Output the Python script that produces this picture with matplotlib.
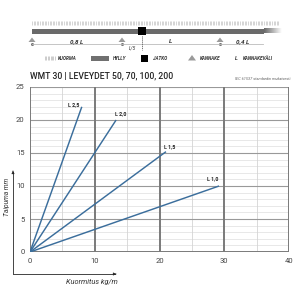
import matplotlib
matplotlib.use("Agg")
import matplotlib.pyplot as plt
import numpy as np
from matplotlib.patches import Rectangle, Polygon

# ---- data ----
series_labels = ["L 2,5", "L 2,0", "L 1,5", "L 1,0"]
end_load = [8.0, 13.3, 21.0, 29.2]      # kg/m at end of line
end_defl = [22.0, 20.0, 15.2, 10.0]     # mm at end of line
x_ticks = [0, 10, 20, 30, 40]
y_ticks = [0, 5, 10, 15, 20, 25]
title = "WMT 30 | LEVEYDET 50, 70, 100, 200"
note = "IEC 61537 standardin mukaisesti."
xlabel = "Kuormitus kg/m"
ylabel = "Taipuma mm"
legend_items = ["KUORMA", "HYLLY", "JATKO", "KANNAKE", "KANNAKEVÄLI"]
span_labels = ["0,8 L", "L", "0,4 L"]

FONT = ["Roboto", "DejaVu Sans"]
plt.rcParams["font.family"] = FONT

line_col = "#3b6e9c"
dark = "#7a7a7a"

fig = plt.figure(figsize=(3, 3), dpi=100)
fig.patch.set_facecolor("white")

# overlay in pixel coordinates
ov = fig.add_axes([0, 0, 1, 1])
ov.set_xlim(0, 300)
ov.set_ylim(300, 0)
ov.axis("off")

# ---- top diagram ----
ov.vlines(np.arange(32, 280, 1.6), 21, 25, color="#c4c4c4", lw=0.5)
ov.add_patch(Rectangle((32, 28.5), 232, 5, color="#6a6a6a", lw=0))
grad = np.linspace(0, 1, 50)[None, :]
ov.imshow(grad, extent=(264, 282, 33.5, 28.5), cmap=matplotlib.colors.LinearSegmentedColormap.from_list("g", ["#6a6a6a", "#ffffff"]), aspect="auto", zorder=2)
ov.add_patch(Rectangle((138, 27), 8, 8, color="black", lw=0, zorder=3))
for tx in [32, 122, 220]:
    ov.add_patch(Polygon([[tx - 3.5, 42], [tx + 3.5, 42], [tx, 37.5]], color="#9a9a9a", lw=0))
    ov.plot([tx], [44], marker="o", ms=1.2, color="#777777")
ov.plot([32, 263], [44, 44], color="#bbbbbb", lw=0.6)
ov.plot([142, 142], [36, 50], color="#555555", lw=0.7, ls=(0, (1, 1)))
for lbl, x in zip(span_labels, [77, 171, 243]):
    ov.text(x, 41.5, lbl, fontsize=4.5, fontweight="bold", style="italic", ha="center", va="center", color="#333333")
ov.text(132, 48, "L/5", fontsize=3.5, style="italic", ha="center", va="center", color="#333333")

# legend row
ly = 58
ov.vlines(np.arange(45, 55, 1.4), ly - 1.8, ly + 1.8, color="#b8b8b8", lw=0.5)
ov.text(58, ly, legend_items[0], fontsize=3.3, style="italic", fontweight="bold", va="center", color="#333333")
ov.add_patch(Rectangle((91, ly - 2.5), 18, 5, color="#707070", lw=0))
ov.text(113, ly, legend_items[1], fontsize=3.3, style="italic", fontweight="bold", va="center", color="#333333")
ov.add_patch(Rectangle((141, ly - 3.5), 7, 7, color="black", lw=0))
ov.text(153, ly, legend_items[2], fontsize=3.3, style="italic", fontweight="bold", va="center", color="#333333")
ov.add_patch(Polygon([[188, ly + 2.5], [196, ly + 2.5], [192, ly - 3]], color="#9a9a9a", lw=0))
ov.text(200, ly, legend_items[3], fontsize=3.3, style="italic", fontweight="bold", va="center", color="#333333")
ov.text(235, ly, "L", fontsize=3.8, style="italic", fontweight="bold", va="center", color="#333333")
ov.text(243, ly, legend_items[4], fontsize=3.3, style="italic", fontweight="bold", va="center", color="#333333")

# title + note
ov.text(30, 75.5, title, fontsize=6.2, fontweight="medium", ha="left", va="center", color="#222222")
ov.text(291, 79.5, note, fontsize=2.8, style="italic", ha="right", va="center", color="#666666")

# axis arrows
ov.plot([13, 13], [274, 172], color="#444444", lw=0.7)
ov.annotate("", xy=(13, 168), xytext=(13, 174), arrowprops=dict(arrowstyle="-|>", color="#222222", lw=0.5, mutation_scale=4))
ov.plot([13, 115], [274, 274], color="#444444", lw=0.7)
ov.annotate("", xy=(119, 274), xytext=(113, 274), arrowprops=dict(arrowstyle="-|>", color="#222222", lw=0.5, mutation_scale=4))
ov.text(7, 197, ylabel, rotation=90, fontsize=4.8, style="italic", ha="center", va="center", color="#333333")
ov.text(92, 282, xlabel, fontsize=5.3, style="italic", ha="center", va="center", color="#333333")

# ---- main chart ----
ax = fig.add_axes([30 / 300, 1 - 252 / 300, 259 / 300, 165 / 300])
ax.set_xlim(0, 40)
ax.set_ylim(0, 25)
ax.set_facecolor("none")
for yy in range(0, 26):
    if yy % 5 == 0:
        continue
    ax.axhline(yy, color="#dedede", lw=0.5, zorder=0)
for xx in [5, 15, 25, 35]:
    ax.axvline(xx, color="#d4d4d4", lw=0.6, zorder=0)
for yy in [5, 10, 15, 20, 25]:
    ax.axhline(yy, color="#999999", lw=0.8, zorder=0.5)
for xx in [10, 20, 30, 40]:
    ax.axvline(xx, color=dark, lw=1.4, zorder=0.6)
for s in ax.spines.values():
    s.set_visible(False)
ax.axvline(0, color=dark, lw=1.4, zorder=0.6)
ax.axhline(0, color=dark, lw=1.4, zorder=0.6)

for lbl, xe, ye in zip(series_labels, end_load, end_defl):
    ax.plot([0, xe], [0, ye], color=line_col, lw=1.05, zorder=3, solid_capstyle="butt")
label_pos = [(6.8, 22.3), (14.0, 21.0), (21.5, 16.0), (28.2, 11.1)]
for lbl, (lx, ly2) in zip(series_labels, label_pos):
    ax.text(lx, ly2, lbl, fontsize=3.8, fontweight="bold", ha="center", va="center", color="#222222", zorder=4)

ax.set_xticks(x_ticks)
ax.set_yticks(y_ticks)
ax.tick_params(length=0, labelsize=5.5, colors="#444444", pad=4)
ax.tick_params(axis="y", pad=4)

fig.savefig("out.png", dpi=100, facecolor="white")
